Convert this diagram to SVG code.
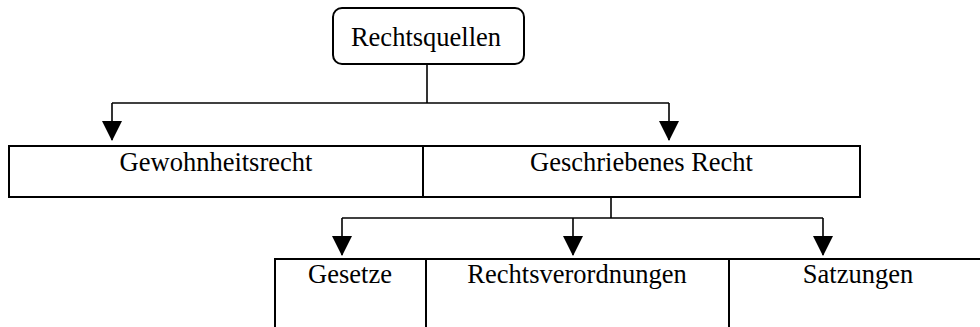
<svg xmlns="http://www.w3.org/2000/svg" width="980" height="327" viewBox="0 0 980 327">
<style>
.box{fill:#fff;stroke:#000;stroke-width:2}
.t{font-family:"Liberation Serif","Times New Roman",serif;font-size:26.5px;fill:#000;text-anchor:middle}
.c{fill:none;stroke:#000;stroke-width:1.6}
</style>
<defs>
<marker id="ah" markerUnits="userSpaceOnUse" markerWidth="22" markerHeight="20" refX="19" refY="10" orient="auto" viewBox="0 0 20 20">
<path d="M0,0 L20,10 L0,20 Z" fill="#000"/>
</marker>
</defs>
<g id="connectors">
<path class="c" d="M427,64 V103"/>
<path class="c" d="M112,103 H669"/>
<path class="c" d="M112,103 V140" marker-end="url(#ah)"/>
<path class="c" d="M669,103 V140" marker-end="url(#ah)"/>
<path class="c" d="M611,197 V218"/>
<path class="c" d="M342,218 H823"/>
<path class="c" d="M342,218 V255" marker-end="url(#ah)"/>
<path class="c" d="M573,218 V255" marker-end="url(#ah)"/>
<path class="c" d="M823,218 V255" marker-end="url(#ah)"/>
</g>
<g id="rechtsquellen">
<rect class="box" x="333" y="8" width="191" height="56" rx="9"/>
<text class="t" x="426" y="46">Rechtsquellen</text>
</g>
<g id="gewohnheitsrecht">
<rect class="box" x="9" y="146" width="414" height="51"/>
<text class="t" x="216" y="171">Gewohnheitsrecht</text>
</g>
<g id="geschriebenes-recht">
<rect class="box" x="423" y="146" width="437" height="51"/>
<text class="t" x="641.5" y="171">Geschriebenes Recht</text>
</g>
<g id="gesetze">
<rect class="box" x="275" y="259" width="151" height="80"/>
<text class="t" x="350" y="283">Gesetze</text>
</g>
<g id="rechtsverordnungen">
<rect class="box" x="426" y="259" width="303" height="80"/>
<text class="t" x="577" y="283">Rechtsverordnungen</text>
</g>
<g id="satzungen">
<rect class="box" x="729" y="259" width="260" height="80"/>
<text class="t" x="858" y="283">Satzungen</text>
</g>
</svg>
